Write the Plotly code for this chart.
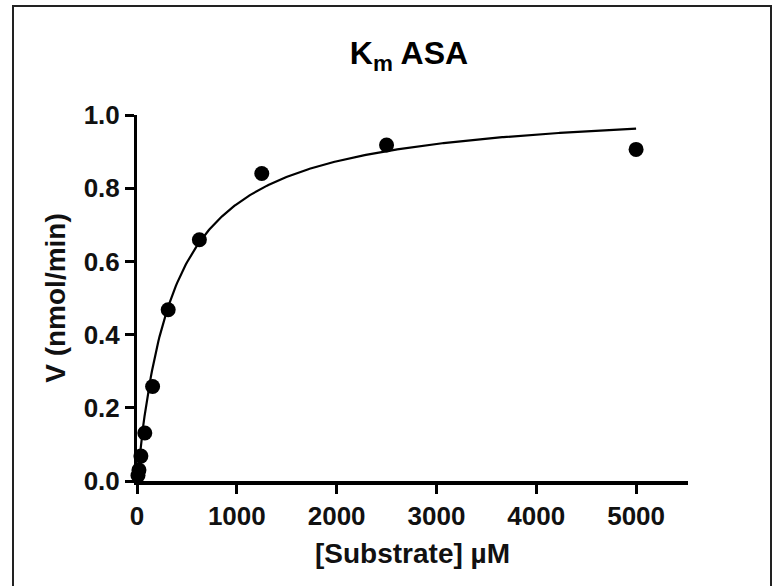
import numpy as np
import plotly.graph_objects as go

# Measured initial rates for ASA at each substrate concentration (2-fold dilutions)
substrate_uM = [9.77, 19.53, 39.06, 78.13, 156.25, 312.5, 625, 1250, 2500, 5000]
velocity_nmol_min = [0.015, 0.030, 0.068, 0.131, 0.258, 0.468, 0.659, 0.840, 0.918, 0.906]

# Michaelis-Menten fit parameters
vmax = 1.033
km_uM = 365.0

x_ticks = [0, 1000, 2000, 3000, 4000, 5000]
y_ticks = [0.0, 0.2, 0.4, 0.6, 0.8, 1.0]
y_tick_text = ["0.0", "0.2", "0.4", "0.6", "0.8", "1.0"]

fit_s = np.linspace(0, 5000, 400)
fit_v = vmax * fit_s / (km_uM + fit_s)

FONT = "Liberation Sans, Arial, sans-serif"

fig = go.Figure()
fig.add_trace(go.Scatter(
    x=fit_s, y=fit_v, mode="lines",
    line=dict(color="black", width=2.2),
    hoverinfo="skip", cliponaxis=False,
))
fig.add_trace(go.Scatter(
    x=substrate_uM, y=velocity_nmol_min, mode="markers",
    marker=dict(color="black", size=15, line=dict(width=0)),
    cliponaxis=False,
))

W, H = 775, 586
L, R, T, B = 137, 87, 115, 105
pw, ph = W - L - R, H - T - B

# Frame drawn around the whole chart
fig.add_shape(
    type="rect", xref="paper", yref="paper",
    x0=(13 - L) / pw, x1=(771 - L) / pw,
    y0=(H - B - 600) / ph, y1=(H - B - 6) / ph,
    line=dict(color="#222222", width=2), layer="below",
)

fig.update_layout(
    width=W, height=H,
    margin=dict(l=L, r=R, t=T, b=B, pad=0),
    paper_bgcolor="white", plot_bgcolor="white",
    showlegend=False,
    font=dict(family=FONT, color="black"),
    title=dict(
        text="K<sub>m</sub> ASA",
        font=dict(family=FONT, size=32, weight="bold", color="black"),
        x=409 / W, xanchor="center", xref="container",
        y=1 - 53 / H, yanchor="middle", yref="container",
    ),
    xaxis=dict(
        range=[0, 5520], tickvals=x_ticks,
        showgrid=False, zeroline=False,
        showline=True, linecolor="black", linewidth=4,
        ticks="outside", ticklen=9, tickwidth=3, tickcolor="black",
        tickfont=dict(family=FONT, size=26, weight="bold", color="#111111"),
        title=dict(text="[Substrate] µM",
                   font=dict(family=FONT, size=28, weight="bold", color="#111111"),
                   standoff=14),
    ),
    yaxis=dict(
        range=[0, 1.0], tickvals=y_ticks, ticktext=y_tick_text,
        showgrid=False, zeroline=False,
        showline=True, linecolor="black", linewidth=3,
        ticks="outside", ticklen=9, tickwidth=3, tickcolor="black",
        tickfont=dict(family=FONT, size=26, weight="bold", color="#111111"),
        title=dict(text="V (nmol/min)",
                   font=dict(family=FONT, size=28, weight="bold", color="#111111"),
                   standoff=10),
    ),
)

fig.write_html("out.html")
